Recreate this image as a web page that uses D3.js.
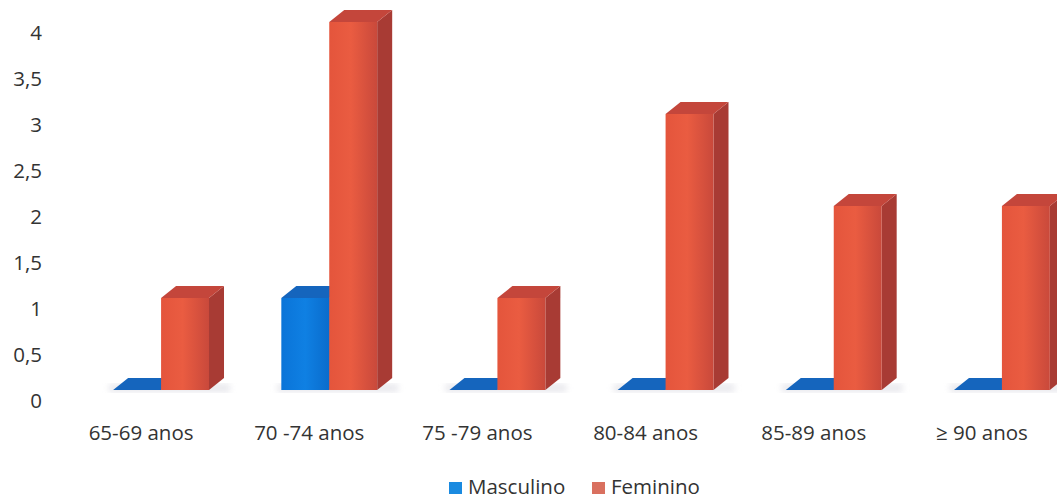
<!DOCTYPE html>
<html>
<head>
<script src="https://cdn.jsdelivr.net/npm/d3@7"></script>
<style>
  body { margin: 0; background: #fff; }
  text { font-family: "Open Sans", "Noto Sans", sans-serif; fill: #333; }
</style>
</head>
<body>
<svg width="1057" height="499"></svg>
<script>
// data
var categories = ["65-69 anos", "70 -74 anos", "75 -79 anos", "80-84 anos", "85-89 anos", "\u2265 90 anos"];
var series = ["Masculino", "Feminino"];
var masculino = [0, 1, 0, 0, 0, 0];
var feminino = [1, 4, 1, 3, 2, 2];
var yTicks = [0, 0.5, 1, 1.5, 2, 2.5, 3, 3.5, 4];

var svg = d3.select("svg");
var depthX = 15, depthY = -12;

var x = d3.scaleBand().domain(categories).range([77, 1086]).paddingInner(0.43).paddingOuter(0.215);
var xs = d3.scaleBand().domain(series).range([0, x.bandwidth()]);
var y = d3.scaleLinear().domain([0, 4]).range([390, 22]);
var yAxisScale = d3.scaleLinear().domain([0, 4]).range([401, 33]);

var colors = {
  Masculino: {front: "url(#gBlue)", top: "#1565bd", side: "#0b56a3", legend: "#1a8ae0"},
  Feminino: {front: "url(#gRed)", top: "#c4463b", side: "#a83b34", legend: "#d9705f"}
};

var defs = svg.append("defs");
var gRed = defs.append("linearGradient").attr("id", "gRed");
gRed.append("stop").attr("offset", "0%").attr("stop-color", "#e4553c");
gRed.append("stop").attr("offset", "45%").attr("stop-color", "#ea5c41");
gRed.append("stop").attr("offset", "100%").attr("stop-color", "#c9493b");
var gBlue = defs.append("linearGradient").attr("id", "gBlue");
gBlue.append("stop").attr("offset", "0%").attr("stop-color", "#0a74d8");
gBlue.append("stop").attr("offset", "50%").attr("stop-color", "#0f80e3");
gBlue.append("stop").attr("offset", "100%").attr("stop-color", "#0a6ccc");
defs.append("filter").attr("id", "blur").append("feGaussianBlur").attr("stdDeviation", 3);

// y axis labels (no line)
var yAxis = svg.append("g")
  .attr("transform", "translate(42,0)")
  .call(d3.axisLeft(yAxisScale).tickValues(yTicks).tickSize(0).tickPadding(0)
    .tickFormat(function(d) { return String(d).replace(".", ","); }));
yAxis.select(".domain").remove();
yAxis.selectAll("text").style("font-size", "20.5px").style("font-family", "'Open Sans', 'Noto Sans', sans-serif").attr("fill", "#333");

// bars
var rows = categories.map(function(c, i) {
  return {cat: c, values: [{s: "Masculino", v: masculino[i]}, {s: "Feminino", v: feminino[i]}]};
});

var groups = svg.selectAll("g.grp").data(rows).enter().append("g")
  .attr("class", "grp")
  .attr("transform", function(d) { return "translate(" + x(d.cat) + ",0)"; });

// soft shadow on the floor
groups.append("rect")
  .attr("x", -4).attr("y", y(0) - 6)
  .attr("width", x.bandwidth() + depthX + 10).attr("height", 8)
  .attr("fill", "#d8d8e0").attr("opacity", 0.6)
  .attr("filter", "url(#blur)");

groups.each(function(d) {
  var g = d3.select(this);
  d.values.forEach(function(b) {
    var x0 = xs(b.s), w = xs.bandwidth();
    var yb = y(0), yt = y(b.v);
    var c = colors[b.s];
    // side face
    g.append("path")
      .attr("d", "M" + (x0 + w) + "," + yb + "L" + (x0 + w + depthX) + "," + (yb + depthY) +
        "L" + (x0 + w + depthX) + "," + (yt + depthY) + "L" + (x0 + w) + "," + yt + "Z")
      .attr("fill", c.side);
    // front face
    g.append("rect")
      .attr("x", x0).attr("y", yt)
      .attr("width", w).attr("height", yb - yt)
      .attr("fill", c.front);
    // top face
    g.append("path")
      .attr("d", "M" + x0 + "," + yt + "L" + (x0 + depthX) + "," + (yt + depthY) +
        "L" + (x0 + w + depthX) + "," + (yt + depthY) + "L" + (x0 + w) + "," + yt + "Z")
      .attr("fill", c.top);
  });
});

// category labels
svg.append("g").selectAll("text").data(categories).enter().append("text")
  .attr("x", function(d) { return x(d) + x.bandwidth() / 2 - 20; })
  .attr("y", 440)
  .attr("text-anchor", "middle")
  .style("font-size", "20.5px")
  .text(function(d) { return d; });

// legend
var legendX = [449, 592];
var legend = svg.append("g").selectAll("g").data(series).enter().append("g")
  .attr("transform", function(d, i) { return "translate(" + legendX[i] + ",482)"; });
legend.append("rect").attr("width", 13).attr("height", 12)
  .attr("fill", function(d) { return colors[d].legend; });
legend.append("text").attr("x", 19).attr("y", 12)
  .style("font-size", "20.5px")
  .text(function(d) { return d; });
</script>
</body>
</html>
